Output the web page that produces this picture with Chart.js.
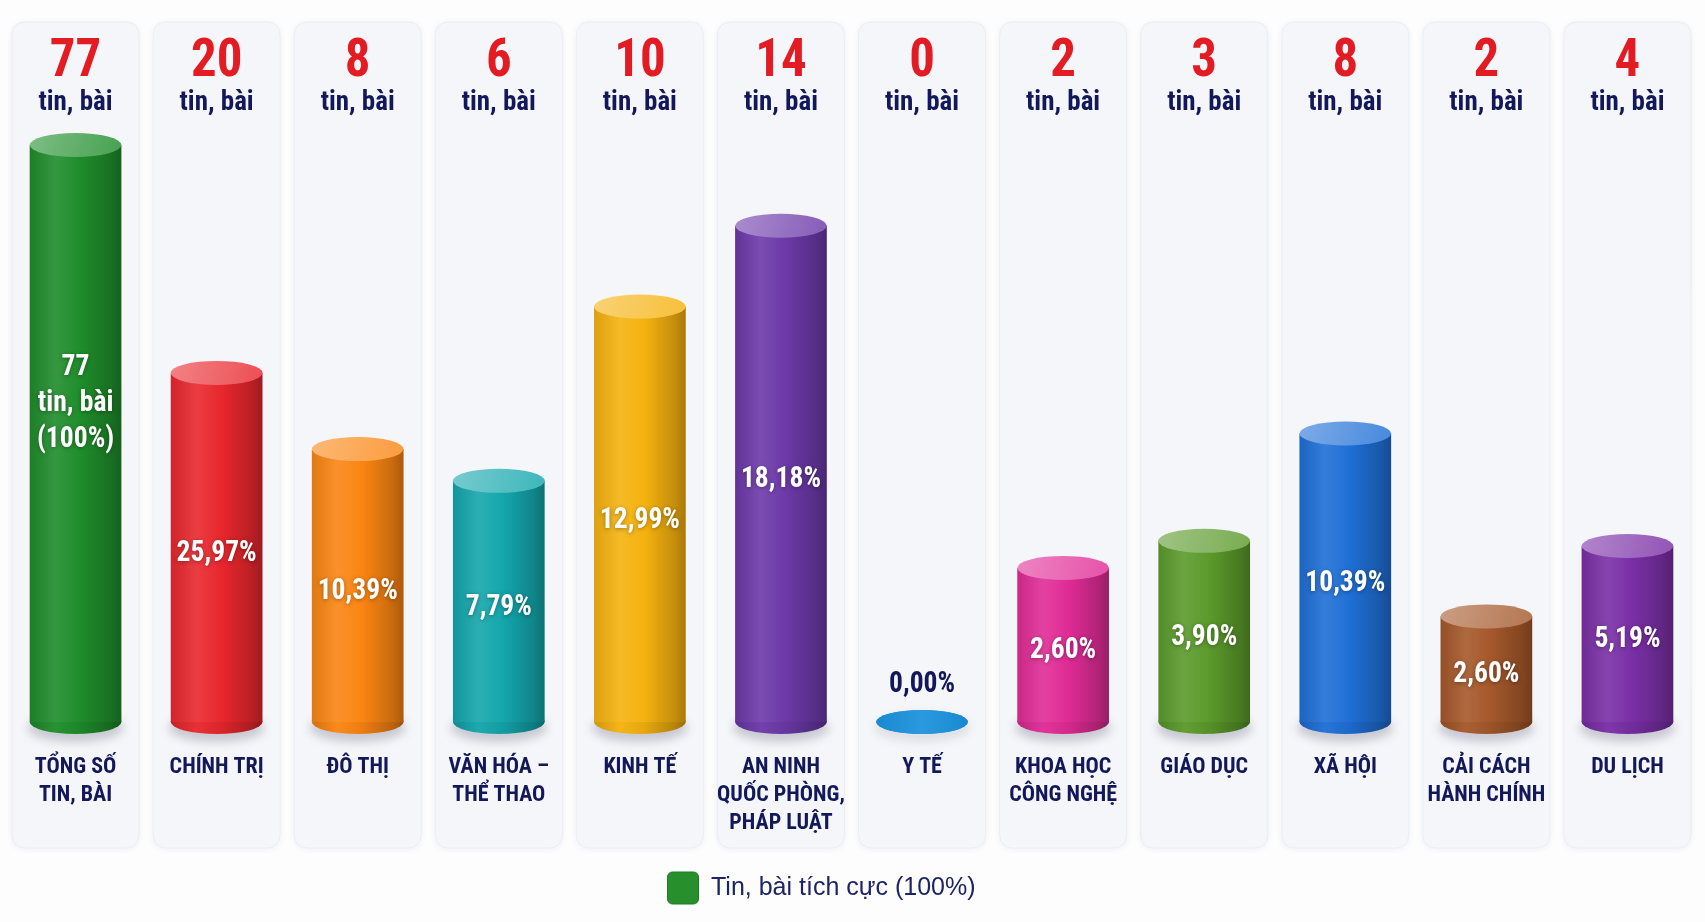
<!DOCTYPE html>
<html>
<head>
<meta charset="utf-8">
<script src="https://cdn.jsdelivr.net/npm/chart.js@4.4.1/dist/chart.umd.min.js"></script>
<style>
  html, body { margin: 0; padding: 0; background: #ffffff; }
  #wrap { width: 1705px; height: 922px; }
</style>
</head>
<body>
<div id="wrap"><canvas id="chart" width="1705" height="922"></canvas></div>
<script>
// categories (multi-line tick labels)
const categories = [
    ['TỔNG SỐ', 'TIN, BÀI'], ['CHÍNH TRỊ'], ['ĐÔ THỊ'], ['VĂN HÓA –', 'THỂ THAO'],
    ['KINH TẾ'], ['AN NINH', 'QUỐC PHÒNG,', 'PHÁP LUẬT'], ['Y TẾ'], ['KHOA HỌC', 'CÔNG NGHỆ'],
    ['GIÁO DỤC'], ['XÃ HỘI'], ['CẢI CÁCH', 'HÀNH CHÍNH'], ['DU LỊCH']
];
const counts = [77, 20, 8, 6, 10, 14, 0, 2, 3, 8, 2, 4];
const percentLabels = ['(100%)', '25,97%', '10,39%', '7,79%', '12,99%', '18,18%', '0,00%', '2,60%', '3,90%', '10,39%', '2,60%', '5,19%'];
// cylinder heights as drawn in the picture (not proportional to the counts), 0-100
const barHeights = [100, 60.5, 47.3, 41.8, 72, 86, 0, 26.7, 31.4, 50, 18.3, 30.5];
const unitLabel = 'tin, bài';
const legendLabel = 'Tin, bài tích cực (100%)';

const barColors = ['#1f8d2b', '#e8272d', '#fb8512', '#13a6ac', '#f5b20f', '#6c39a9', '#1990dc',
                   '#e02c96', '#5b9a2b', '#1f6fd6', '#a5582a', '#7a2fa6'];

const FONT = '"Roboto Condensed", "Liberation Sans Narrow", Roboto, sans-serif';
const NAVY = '#12185a';

function shade(hex, amt) {
    const n = parseInt(hex.slice(1), 16);
    let r = n >> 16, g = (n >> 8) & 255, b = n & 255;
    const t = amt < 0 ? 0 : 255, p = Math.abs(amt);
    r = Math.round((t - r) * p + r);
    g = Math.round((t - g) * p + g);
    b = Math.round((t - b) * p + b);
    return `rgb(${r},${g},${b})`;
}

function bodyGradient(ctx, cx, w, c, d = 0) {
    const g = ctx.createLinearGradient(cx - w / 2, 0, cx + w / 2, 0);
    g.addColorStop(0, shade(c, -0.1 - d));
    g.addColorStop(0.28, shade(c, 0.1 - d));
    g.addColorStop(0.55, shade(c, -d));
    g.addColorStop(0.88, shade(c, -0.2 - d));
    g.addColorStop(1, shade(c, -0.32 - d));
    return g;
}

function roundRect(ctx, x, y, w, h, r) {
    ctx.beginPath();
    ctx.moveTo(x + r, y);
    ctx.lineTo(x + w - r, y);
    ctx.quadraticCurveTo(x + w, y, x + w, y + r);
    ctx.lineTo(x + w, y + h - r);
    ctx.quadraticCurveTo(x + w, y + h, x + w - r, y + h);
    ctx.lineTo(x + r, y + h);
    ctx.quadraticCurveTo(x, y + h, x, y + h - r);
    ctx.lineTo(x, y + r);
    ctx.quadraticCurveTo(x, y, x + r, y);
    ctx.closePath();
}

function ellipse(ctx, x, y, rx, ry) {
    ctx.beginPath();
    ctx.ellipse(x, y, rx, ry, 0, 0, Math.PI * 2);
}

// squeeze text horizontally a touch
function narrowText(ctx, text, x, y, sx) {
    ctx.save();
    ctx.translate(x, y);
    ctx.scale(sx, 1);
    ctx.fillText(text, 0, 0);
    ctx.restore();
}

const RY = 12;

const cylinderPlugin = {
    id: 'cylinders',
    beforeDraw(chart) {
        const { ctx } = chart;
        const x = chart.scales.x;
        ctx.save();
        ctx.fillStyle = '#fdfdfe';
        ctx.fillRect(0, 0, chart.width, chart.height);
        categories.forEach((c, i) => {
            const cx = x.getPixelForValue(i);
            const w = 127, top = 22, bottom = 848;
            ctx.shadowColor = 'rgba(30,40,90,0.07)';
            ctx.shadowBlur = 6;
            ctx.shadowOffsetY = 1;
            roundRect(ctx, cx - w / 2, top, w, bottom - top, 14);
            ctx.fillStyle = '#f5f6f9';
            ctx.fill();
            ctx.shadowColor = 'transparent';
            ctx.strokeStyle = '#eceef4';
            ctx.lineWidth = 1;
            ctx.stroke();

            ctx.textAlign = 'center';
            ctx.textBaseline = 'middle';
            ctx.fillStyle = '#e31b23';
            ctx.font = `bold 53px ${FONT}`;
            narrowText(ctx, String(counts[i]), cx, 63, 0.96);
            ctx.fillStyle = NAVY;
            ctx.font = `bold 27px ${FONT}`;
            narrowText(ctx, unitLabel, cx, 103, 1);
        });
        ctx.restore();
    },
    beforeDatasetsDraw(chart) {
        const { ctx } = chart;
        const meta = chart.getDatasetMeta(0);
        meta.data.forEach((bar, i) => {
            const { x, y, base, width } = bar.getProps(['x', 'y', 'base', 'width'], true);
            const rx = width / 2;
            const flat = base - y < 1;
            ctx.save();
            ctx.filter = 'blur(5px)';
            ctx.fillStyle = flat ? 'rgba(40,40,70,0.10)' : 'rgba(40,40,70,0.22)';
            ellipse(ctx, x, base + 6, rx + 2, RY + 2);
            ctx.fill();
            ctx.restore();
            ctx.save();
            ellipse(ctx, x, base, rx, RY);
            ctx.fillStyle = flat ? barColors[i] : bodyGradient(ctx, x, width, barColors[i], 0.06);
            ctx.fill();
            ctx.restore();
        });
    },
    afterDatasetsDraw(chart) {
        const { ctx } = chart;
        const meta = chart.getDatasetMeta(0);
        meta.data.forEach((bar, i) => {
            const { x, y, base, width } = bar.getProps(['x', 'y', 'base', 'width'], true);
            const rx = width / 2;
            const c = barColors[i];
            const flat = base - y < 1;
            ctx.save();
            ellipse(ctx, x, y, rx, RY);
            if (flat) {
                const g = ctx.createLinearGradient(x - rx, 0, x + rx, 0);
                g.addColorStop(0, shade(c, -0.05));
                g.addColorStop(0.5, shade(c, 0.08));
                g.addColorStop(1, shade(c, -0.05));
                ctx.fillStyle = g;
            } else {
                const g = ctx.createLinearGradient(x - rx, y - RY, x + rx, y + RY);
                g.addColorStop(0, shade(c, 0.42));
                g.addColorStop(0.5, shade(c, 0.3));
                g.addColorStop(1, shade(c, 0.18));
                ctx.fillStyle = g;
            }
            ctx.fill();
            ctx.restore();

            // value labels
            ctx.save();
            ctx.textAlign = 'center';
            ctx.textBaseline = 'middle';
            ctx.font = `bold 29px ${FONT}`;
            if (flat) {
                ctx.fillStyle = NAVY;
                narrowText(ctx, percentLabels[i], x, base - 37, 0.95);
            } else {
                ctx.fillStyle = '#ffffff';
                ctx.shadowColor = 'rgba(0,0,0,0.35)';
                ctx.shadowBlur = 4;
                ctx.shadowOffsetY = 1;
                const mid = (y + RY + base) / 2;
                if (i === 0) {
                    const ly = mid - 36;
                    narrowText(ctx, String(counts[i]), x, ly - 36, 0.95);
                    narrowText(ctx, unitLabel, x, ly, 0.95);
                    narrowText(ctx, percentLabels[i], x, ly + 36, 0.95);
                } else {
                    narrowText(ctx, percentLabels[i], x, mid, 0.95);
                }
            }
            ctx.restore();
        });
    },
    afterLayout(chart) {
        // legend sits a little left of centre in the picture
        if (chart.legend) {
            chart.legend.left -= 30;
            chart.legend.right -= 30;
        }
    }
};

const ctx = document.getElementById('chart').getContext('2d');
new Chart(ctx, {
    type: 'bar',
    data: {
        labels: categories,
        datasets: [{
            label: legendLabel,
            data: barHeights,
            backgroundColor: (c) => {
                const chart = c.chart;
                const xs = chart.scales.x;
                const i = c.dataIndex;
                if (!xs || i === undefined || !chart.chartArea) return barColors[0];
                const w = xs.width / categories.length * 0.65;
                return bodyGradient(chart.ctx, xs.getPixelForValue(i), w, barColors[i]);
            },
            borderWidth: 0,
            barPercentage: 0.65,
            categoryPercentage: 1
        }]
    },
    options: {
        responsive: false,
        animation: false,
        devicePixelRatio: 1,
        layout: { padding: { top: 145, left: 5, right: 7, bottom: 8 } },
        scales: {
            x: {
                grid: { display: false },
                border: { display: false },
                ticks: {
                    autoSkip: false,
                    maxRotation: 0,
                    padding: 24,
                    color: NAVY,
                    font: { family: FONT, size: 22, weight: 'bold', lineHeight: 1.27 }
                },
                afterFit(scale) { scale.height = 140; }
            },
            y: { display: false, min: 0, max: 100 }
        },
        plugins: {
            tooltip: { enabled: false },
            legend: {
                position: 'bottom',
                labels: {
                    boxWidth: 31,
                    boxHeight: 32,
                    useBorderRadius: true,
                    borderRadius: 5,
                    padding: 10,
                    color: '#1d2466',
                    font: { family: '"Liberation Sans", Arial, sans-serif', size: 25 },
                    generateLabels: () => [{
                        text: legendLabel,
                        fillStyle: '#27902c',
                        strokeStyle: '#1e7a23',
                        lineWidth: 1,
                        borderRadius: 5,
                        hidden: false,
                        fontColor: '#1d2466',
                        datasetIndex: 0
                    }]
                }
            }
        }
    },
    plugins: [cylinderPlugin]
});
</script>
</body>
</html>
